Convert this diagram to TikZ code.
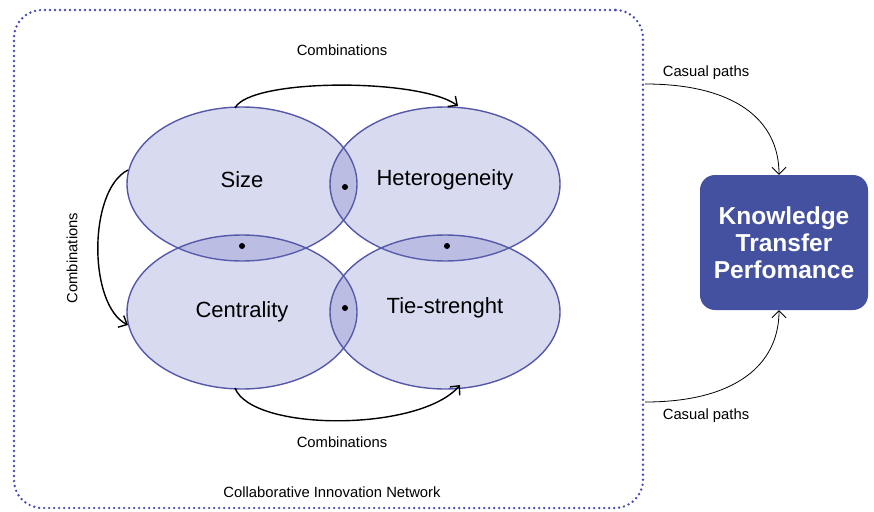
\documentclass[tikz,border=0pt]{standalone}
\usepackage{fontspec}
\setmainfont{Liberation Sans}
\usetikzlibrary{shapes.geometric,arrows.meta}
\definecolor{ellfill}{RGB}{100,106,190}
\definecolor{elldraw}{RGB}{85,88,168}
\definecolor{dotblue}{RGB}{70,76,180}
\definecolor{kblue}{RGB}{68,81,160}
\tikzset{
  ell/.style={ellipse, draw=elldraw, line width=1.4pt, fill=ellfill, fill opacity=0.25, text opacity=1,
    minimum width=230pt, minimum height=154pt, inner sep=0pt, font=\fontsize{22}{26}\selectfont},
  comb/.style={line width=1.4pt, -{Straight Barb[length=7pt,width=13pt]}},
  casual/.style={line width=0.8pt, -{Straight Barb[length=7pt,width=14pt]}},
  lbl/.style={font=\fontsize{14.8}{18}\selectfont, inner sep=0pt},
  blackdot/.style={circle, fill=black, inner sep=0pt, minimum size=6pt},
}
\begin{document}
\begin{tikzpicture}[x=1pt,y=-1pt]
\useasboundingbox (0,0) rectangle (874,511);
% outer network box
\node[draw=dotblue, line width=2.7pt, dash pattern=on 0pt off 5pt, line cap=round,
  rounded corners=28pt, minimum width=629pt, minimum height=498pt, inner sep=0pt] (cin) at (328.5,259) {};
\node[lbl] (cinlbl) at (332,492) {Collaborative Innovation Network};
% ellipses
\node[ell] (size) at (242,184) {};
\node[ell] (het) at (445,184) {};
\node[ell] (cen) at (242,312) {};
\node[ell] (tie) at (445,312) {};
\node[font=\fontsize{22}{26}\selectfont] (sizet) at (242,180) {Size};
\node[font=\fontsize{22}{26}\selectfont] (hett) at (445,180) {Heterogeneity};
\node[font=\fontsize{22}{26}\selectfont] (cent) at (242,312) {Centrality};
\node[font=\fontsize{22}{26}\selectfont] (tiet) at (445,308) {Tie-strenght};
% dots
\node[blackdot] (d1) at (345,187) {};
\node[blackdot] (d2) at (242,246) {};
\node[blackdot] (d3) at (447,246) {};
\node[blackdot] (d4) at (345,308) {};
% combination arrows
\coordinate (t1) at (235,108);
\coordinate (t2) at (458,106);
\draw[comb] (t1) .. controls (250,78) and (420,78) .. (t2);
\node[lbl] (ctop) at (342,50) {Combinations};
\coordinate (b1) at (235,388);
\coordinate (b2) at (460,385);
\draw[comb] (b1) .. controls (252,432) and (420,432) .. (b2);
\node[lbl] (cbot) at (342,442) {Combinations};
\coordinate (l1) at (128,170);
\coordinate (l2) at (128,325);
\draw[comb] (l1) .. controls (88,190) and (88,305) .. (l2);
\node[lbl, rotate=90] (cleft) at (72,258) {Combinations};
% knowledge box
\node[fill=kblue, rounded corners=15pt, minimum width=168pt, minimum height=135pt, inner sep=0pt,
  text=white, align=center, font=\bfseries\fontsize{24.5}{27}\selectfont] (ktp) at (784,242.5)
  {Knowledge\\Transfer\\Perfomance};
% casual paths
\coordinate (p1) at (645,84);
\coordinate (p2) at (645,402);
\draw[casual] (p1) .. controls (735,84) and (779,120) .. (ktp.north -| 779,0);
\draw[casual] (p2) .. controls (735,402) and (779,365) .. (ktp.south -| 779,0);
\node[lbl] (cp1) at (706,73) {Casual paths};
\node[lbl] (cp2) at (706,416) {Casual paths};
\end{tikzpicture}
\end{document}
